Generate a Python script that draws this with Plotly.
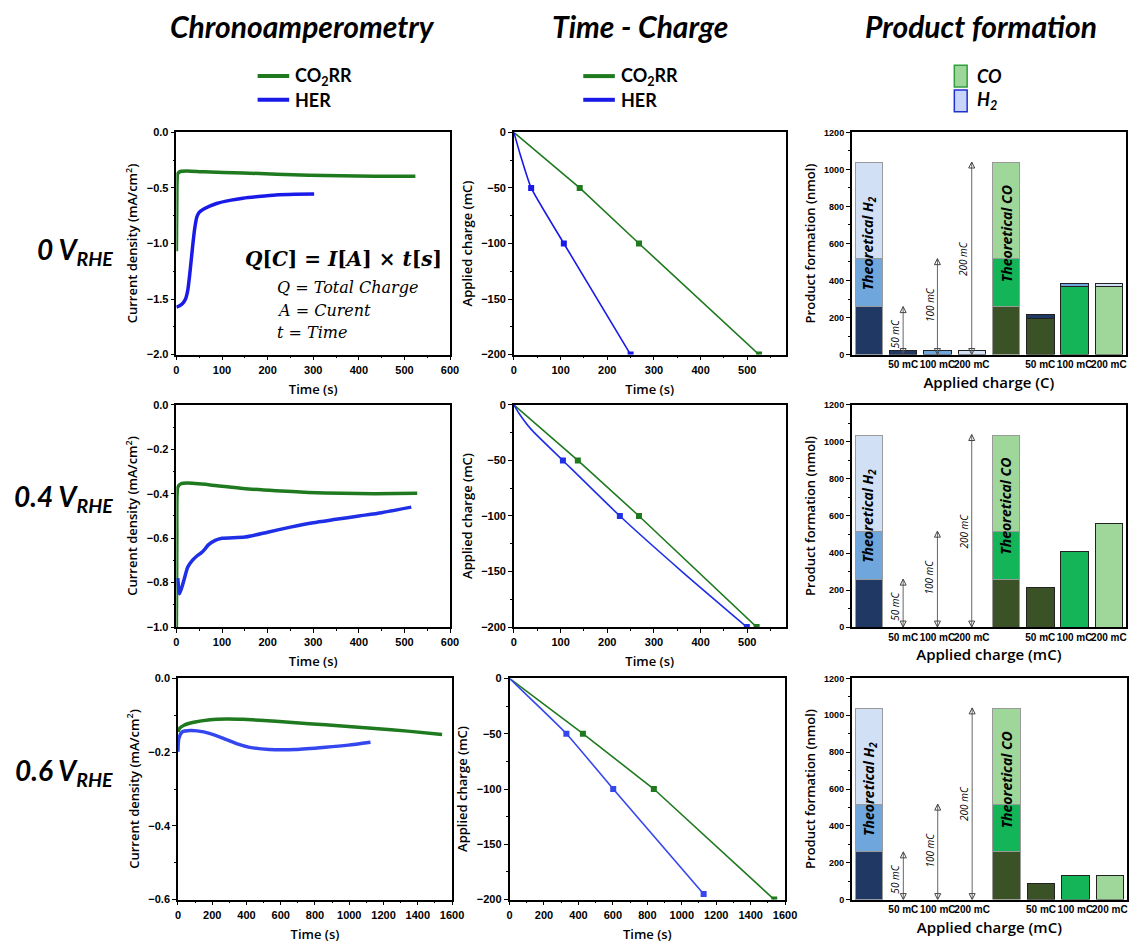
import plotly.graph_objects as go

W, H = 1141, 952

# ---------------- DATA ----------------
potentials = ["0", "0.4", "0.6"]

# Chronoamperometry (time s, current density mA/cm2)
t_co2_0 = [0, 1, 3, 10, 24, 60, 146, 220, 290, 360, 434, 524]
j_co2_0 = [-1.07, -0.6, -0.37, -0.35, -0.347, -0.355, -0.365, -0.376, -0.386, -0.39, -0.395, -0.395]
t_her_0 = [0, 7, 13, 20, 25, 30, 35, 40, 45, 50, 60, 88, 120, 146, 180, 218, 260, 302]
j_her_0 = [-1.573, -1.56, -1.543, -1.50, -1.42, -1.25, -1.05, -0.87, -0.76, -0.72, -0.69, -0.64, -0.61, -0.593, -0.578, -0.564, -0.558, -0.555]

t_co2_04 = [0, 1, 3, 10, 24, 74, 146, 218, 290, 362, 434, 528]
j_co2_04 = [-1.0, -0.6, -0.37, -0.355, -0.352, -0.36, -0.376, -0.386, -0.394, -0.398, -0.400, -0.398]
t_her_04 = [3, 7, 15, 25, 35, 45, 55, 62, 70, 85, 100, 150, 200, 250, 300, 350, 400, 450, 515]
j_her_04 = [-0.78, -0.85, -0.80, -0.73, -0.70, -0.68, -0.665, -0.65, -0.63, -0.61, -0.60, -0.595, -0.573, -0.55, -0.53, -0.515, -0.50, -0.485, -0.46]

t_co2_06 = [0, 10, 35, 92, 188, 284, 380, 572, 765, 957, 1149, 1341, 1542]
j_co2_06 = [-0.145, -0.135, -0.127, -0.119, -0.112, -0.110, -0.111, -0.116, -0.123, -0.129, -0.136, -0.143, -0.152]
t_her_06 = [0, 5, 25, 73, 150, 246, 342, 419, 534, 688, 861, 995, 1124]
j_her_06 = [-0.199, -0.163, -0.145, -0.141, -0.145, -0.159, -0.177, -0.187, -0.193, -0.193, -0.187, -0.181, -0.173]

# Time - Charge (time s, charge mC)
tq_co2_0 = [0, 141, 268, 525]
q_co2_0 = [0, -50, -100, -200]
tq_her_0 = [0, 15, 37, 107, 250]
q_her_0 = [0, -22, -50, -100, -200]

tq_co2_04 = [0, 137, 268, 520]
q_co2_04 = [0, -50, -100, -200]
tq_her_04 = [0, 10, 37, 105, 227, 360, 499]
q_her_04 = [0, -7, -22, -50, -100, -150, -200]

tq_co2_06 = [0, 426, 838, 1537]
q_co2_06 = [0, -50, -100, -200]
tq_her_06 = [0, 120, 330, 602, 1127]
q_her_06 = [0, -18, -50, -100, -195]

# marker points at -50, -100 and end of run
mk_co2 = [[141, 268, 525], [137, 268, 520], [426, 838, 1537]]
mkq_co2 = [[-50, -100, -200], [-50, -100, -200], [-50, -100, -200]]
mk_her = [[37, 107, 250], [105, 227, 499], [330, 602, 1127]]
mkq_her = [[-50, -100, -200], [-50, -100, -200], [-50, -100, -195]]

# Product formation (nmol)
bar_pos = [1, 2, 3, 5, 6, 7]
bar_labels = ["50 mC", "100 mC", "200 mC", "50 mC", "100 mC", "200 mC"]
theo_segments = [259, 259, 518]          # 50 mC, +100 mC, +200 mC
h2_measured = [[20, 20, 20], [0, 0, 0], [0, 0, 0]]
co_measured = [[197, 366, 366], [216, 409, 561], [90, 131, 131]]
h2_on_co = [[18, 17, 17], [0, 0, 0], [0, 0, 0]]
arrow_tops = [259, 518, 1040]
arrow_names = ["50 mC", "100 mC", "200 mC"]

# ---------------- STYLE ----------------
GREEN = "#1f7a1f"
BLUE = "#1a1ae8"
BLUE_L = ["#1a1ae8", "#1f2fe6", "#3447ee"]
NAVY, MIDB, LIGHTB = "#1f3864", "#6fa6dc", "#d2e0f6"
DKG, MIDG, LIGHTG = "#3a5226", "#14b458", "#9fd79a"
TICKF = dict(family="Liberation Sans, Arial", size=11, color="black", weight="bold")
TITLEF = dict(family="Open Sans", size=13, color="black", weight=600)

rows_y = [(128, 353), (404, 629), (681, 905)]
cols_x = [[(175.7, 453), (517.7, 793), (860, 1138)],
          [(175.7, 453), (517.7, 793), (860, 1138)],
          [(177.3, 455), (513.3, 792.5), (860, 1139)]]
xr_chrono = [[0, 600], [0, 600], [0, 1600]]
xr_tq = [[0, 582], [0, 582], [0, 1600]]
yr_chrono = [[-2, 0], [-1, 0], [-0.6, 0]]
dy_chrono = [0.5, 0.2, 0.2]

chrono = [(t_co2_0, j_co2_0, t_her_0, j_her_0),
          (t_co2_04, j_co2_04, t_her_04, j_her_04),
          (t_co2_06, j_co2_06, t_her_06, j_her_06)]
tq = [(tq_co2_0, q_co2_0, tq_her_0, q_her_0),
      (tq_co2_04, q_co2_04, tq_her_04, q_her_04),
      (tq_co2_06, q_co2_06, tq_her_06, q_her_06)]

fig = go.Figure()
layout = {}
annotations = []
shapes = []


def ax_common():
    return dict(showline=True, linecolor="black", linewidth=1.5, mirror=True,
                ticks="outside", ticklen=4, tickwidth=1.2, tickcolor="black",
                showgrid=False, zeroline=False, tickfont=TICKF)


for r in range(3):
    y0, y1 = rows_y[r]
    ydom = [1 - y1 / H, 1 - y0 / H]
    for c in range(3):
        n = r * 3 + c + 1
        xa = "x" if n == 1 else f"x{n}"
        ya = "y" if n == 1 else f"y{n}"
        xk = "xaxis" if n == 1 else f"xaxis{n}"
        yk = "yaxis" if n == 1 else f"yaxis{n}"
        x0, x1 = cols_x[r][c]
        xd = dict(ax_common(), domain=[x0 / W, x1 / W], anchor=ya)
        yd = dict(ax_common(), domain=ydom, anchor=xa)
        if c == 0:
            tc, jc, th, jh = chrono[r]
            fig.add_trace(go.Scatter(x=tc, y=jc, mode="lines",
                                     line=dict(color=GREEN, width=3.5, shape="spline", smoothing=0.5),
                                     xaxis=xa, yaxis=ya, showlegend=False))
            fig.add_trace(go.Scatter(x=th, y=jh, mode="lines",
                                     line=dict(color=BLUE_L[r], width=3.5, shape="spline", smoothing=0.6),
                                     xaxis=xa, yaxis=ya, showlegend=False))
            xd.update(range=xr_chrono[r], dtick=100 if r < 2 else 200,
                      minor=dict(ticks="outside", ticklen=2, dtick=50 if r < 2 else 100, tickcolor="black"),
                      title=dict(text="Time (s)", font=TITLEF, standoff=10))
            yd.update(range=yr_chrono[r], dtick=dy_chrono[r], tickformat=".1f",
                      minor=dict(ticks="outside", ticklen=2, dtick=dy_chrono[r] / 2, tickcolor="black"),
                      title=dict(text="Current density (mA/cm<sup>2</sup>)", font=TITLEF, standoff=6))
        elif c == 1:
            tc, qc, th, qh = tq[r]
            fig.add_trace(go.Scatter(x=tc, y=qc, mode="lines", line=dict(color=GREEN, width=1.6),
                                     xaxis=xa, yaxis=ya, showlegend=False))
            fig.add_trace(go.Scatter(x=th, y=qh, mode="lines",
                                     line=dict(color=BLUE_L[r], width=1.6, shape="spline", smoothing=0.5),
                                     xaxis=xa, yaxis=ya, showlegend=False))
            fig.add_trace(go.Scatter(x=mk_co2[r], y=mkq_co2[r], mode="markers",
                                     marker=dict(color=GREEN, size=6, symbol="square"),
                                     xaxis=xa, yaxis=ya, showlegend=False))
            fig.add_trace(go.Scatter(x=mk_her[r], y=mkq_her[r], mode="markers",
                                     marker=dict(color=BLUE_L[r], size=6, symbol="square"),
                                     xaxis=xa, yaxis=ya, showlegend=False))
            xd.update(range=xr_tq[r], dtick=100 if r < 2 else 200,
                      minor=dict(ticks="outside", ticklen=2, dtick=50 if r < 2 else 100, tickcolor="black"),
                      title=dict(text="Time (s)", font=TITLEF, standoff=10))
            yd.update(range=[-200, 0], dtick=50,
                      minor=dict(ticks="outside", ticklen=2, dtick=25, tickcolor="black"),
                      title=dict(text="Applied charge (mC)", font=TITLEF, standoff=6))
        else:
            seg_cols = [(NAVY, DKG), (MIDB, MIDG), (LIGHTB, LIGHTG)]
            for s, val in enumerate(theo_segments):
                fig.add_trace(go.Bar(x=[0, 4], y=[val, val], width=0.8,
                                     marker=dict(color=list(seg_cols[s]), line=dict(color="#9a9a9a", width=1)),
                                     xaxis=xa, yaxis=ya, showlegend=False))
            fig.add_trace(go.Bar(x=[5, 6, 7], y=co_measured[r], width=0.8,
                                 marker=dict(color=[DKG, MIDG, LIGHTG], line=dict(color="#222222", width=1)),
                                 xaxis=xa, yaxis=ya, showlegend=False))
            hx, hy, hc = [], [], []
            for i, v in enumerate(h2_measured[r]):
                if v > 0:
                    hx.append(i + 1); hy.append(v); hc.append([NAVY, MIDB, LIGHTB][i])
            for i, v in enumerate(h2_on_co[r]):
                if v > 0:
                    hx.append(i + 5); hy.append(v); hc.append([NAVY, MIDB, LIGHTB][i])
            if hx:
                fig.add_trace(go.Bar(x=hx, y=hy, width=0.8,
                                     marker=dict(color=hc, line=dict(color="#222222", width=1)),
                                     xaxis=xa, yaxis=ya, showlegend=False))
            # double-headed arrows (line + open arrow heads)
            for k, top in enumerate(arrow_tops):
                fig.add_trace(go.Scatter(x=[k + 1, k + 1], y=[0, top], mode="lines+markers",
                                         line=dict(color="#666666", width=1),
                                         marker=dict(symbol=["arrow-down-open", "arrow-up-open"], size=6,
                                                     color="#444444", line=dict(color="#444444", width=1)),
                                         xaxis=xa, yaxis=ya, showlegend=False, hoverinfo="skip"))
                annotations.append(dict(x=k + 1, y=[110, 270, 520][k], xref=xa, yref=ya,
                                        text=f"<i>{arrow_names[k]}</i>",
                                        textangle=-90, showarrow=False, xshift=-8,
                                        font=dict(family="Open Sans", size=10, color="black")))
            annotations.append(dict(x=0, y=600, xref=xa, yref=ya, text="<b><i>Theoretical H<sub>2</sub></i></b>",
                                    textangle=-90, showarrow=False,
                                    font=dict(family="Open Sans", size=14, color="black")))
            annotations.append(dict(x=4, y=650, xref=xa, yref=ya, text="<b><i>Theoretical CO</i></b>",
                                    textangle=-90, showarrow=False,
                                    font=dict(family="Open Sans", size=14, color="black")))
            xd.update(range=[-0.5, 7.5], tickvals=bar_pos, ticktext=bar_labels, ticks="", tickangle=0,
                      tickfont=dict(TICKF, size=10),
                      title=dict(text="Applied charge (C)" if r == 0 else "Applied charge (mC)",
                                 font=dict(TITLEF, size=15), standoff=8))
            yd.update(range=[0, 1200], dtick=200, tickfont=dict(TICKF, size=9),
                      minor=dict(ticks="outside", ticklen=2, dtick=100, tickcolor="black"),
                      title=dict(text="Product formation (nmol)", font=TITLEF, standoff=6))
        layout[xk] = xd
        layout[yk] = yd

# headers
HEADF = dict(family="Lato", size=30, color="black")
for txt, xc in [("Chronoamperometry", 303), ("Time - Charge", 645), ("Product formation", 991)]:
    annotations.append(dict(x=xc / W, y=1 - 20 / H, xref="paper", yref="paper", text=f"<b><i>{txt}</i></b>",
                            showarrow=False, font=HEADF, xanchor="center", yanchor="middle"))

# row labels
for r, (p, yc) in enumerate(zip(potentials, [248, 498, 776])):
    annotations.append(dict(x=113 / W, y=1 - yc / H, xref="paper", yref="paper",
                            text=f"<b><i>{p} V<sub>RHE</sub></i></b>", showarrow=False,
                            font=dict(family="Lato", size=28, color="black"), xanchor="right", yanchor="middle"))

# line legends
LEGF = dict(family="Lato", size=18, color="black", weight="bold")
for x0 in (258, 588):
    for yy, col, lab in [(71, GREEN, "CO<sub>2</sub>RR"), (95, BLUE, "HER")]:
        shapes.append(dict(type="line", xref="paper", yref="paper", x0=x0 / W, x1=(x0 + 32) / W,
                           y0=1 - yy / H, y1=1 - yy / H, line=dict(color=col, width=4)))
        annotations.append(dict(x=(x0 + 36) / W, y=1 - yy / H, xref="paper", yref="paper", text=lab,
                                showarrow=False, xanchor="left", yanchor="middle", font=LEGF))
# bar legend
for yy, fc, lc, lab in [(71, LIGHTG, "#2e9e3e", "<i>CO</i>"), (96, "#c9d4fb", "#2030d0", "<i>H<sub>2</sub></i>")]:
    shapes.append(dict(type="rect", xref="paper", yref="paper", x0=964 / W, x1=977 / W,
                       y0=1 - (yy + 11) / H, y1=1 - (yy - 11) / H, fillcolor=fc, line=dict(color=lc, width=1.5)))
    annotations.append(dict(x=985 / W, y=1 - yy / H, xref="paper", yref="paper", text=lab,
                            showarrow=False, xanchor="left", yanchor="middle", font=LEGF))

# equation
annotations.append(dict(x=345 / W, y=1 - 256 / H, xref="paper", yref="paper",
                        text="<b><i>Q</i>[<i>C</i>] = <i>I</i>[<i>A</i>] × <i>t</i>[<i>s</i>]</b>",
                        showarrow=False, xanchor="center", yanchor="middle",
                        font=dict(family="DejaVu Serif", size=20, color="black")))
for k, txt in enumerate(["<i>Q</i> = <i>Total Charge</i>", "<i>A</i> = <i>Curent</i>", "<i>t</i> = <i>Time</i>"]):
    annotations.append(dict(x=276 / W, y=1 - (285 + 23 * k) / H, xref="paper", yref="paper", text=txt,
                            showarrow=False, xanchor="left", yanchor="middle",
                            font=dict(family="DejaVu Serif", size=16, color="black")))

fig.update_layout(width=W, height=H, margin=dict(l=0, r=0, t=0, b=0),
                  paper_bgcolor="white", plot_bgcolor="white", barmode="stack", bargap=0.2,
                  annotations=annotations, shapes=shapes, showlegend=False, **layout)
fig.write_html("out.html")
